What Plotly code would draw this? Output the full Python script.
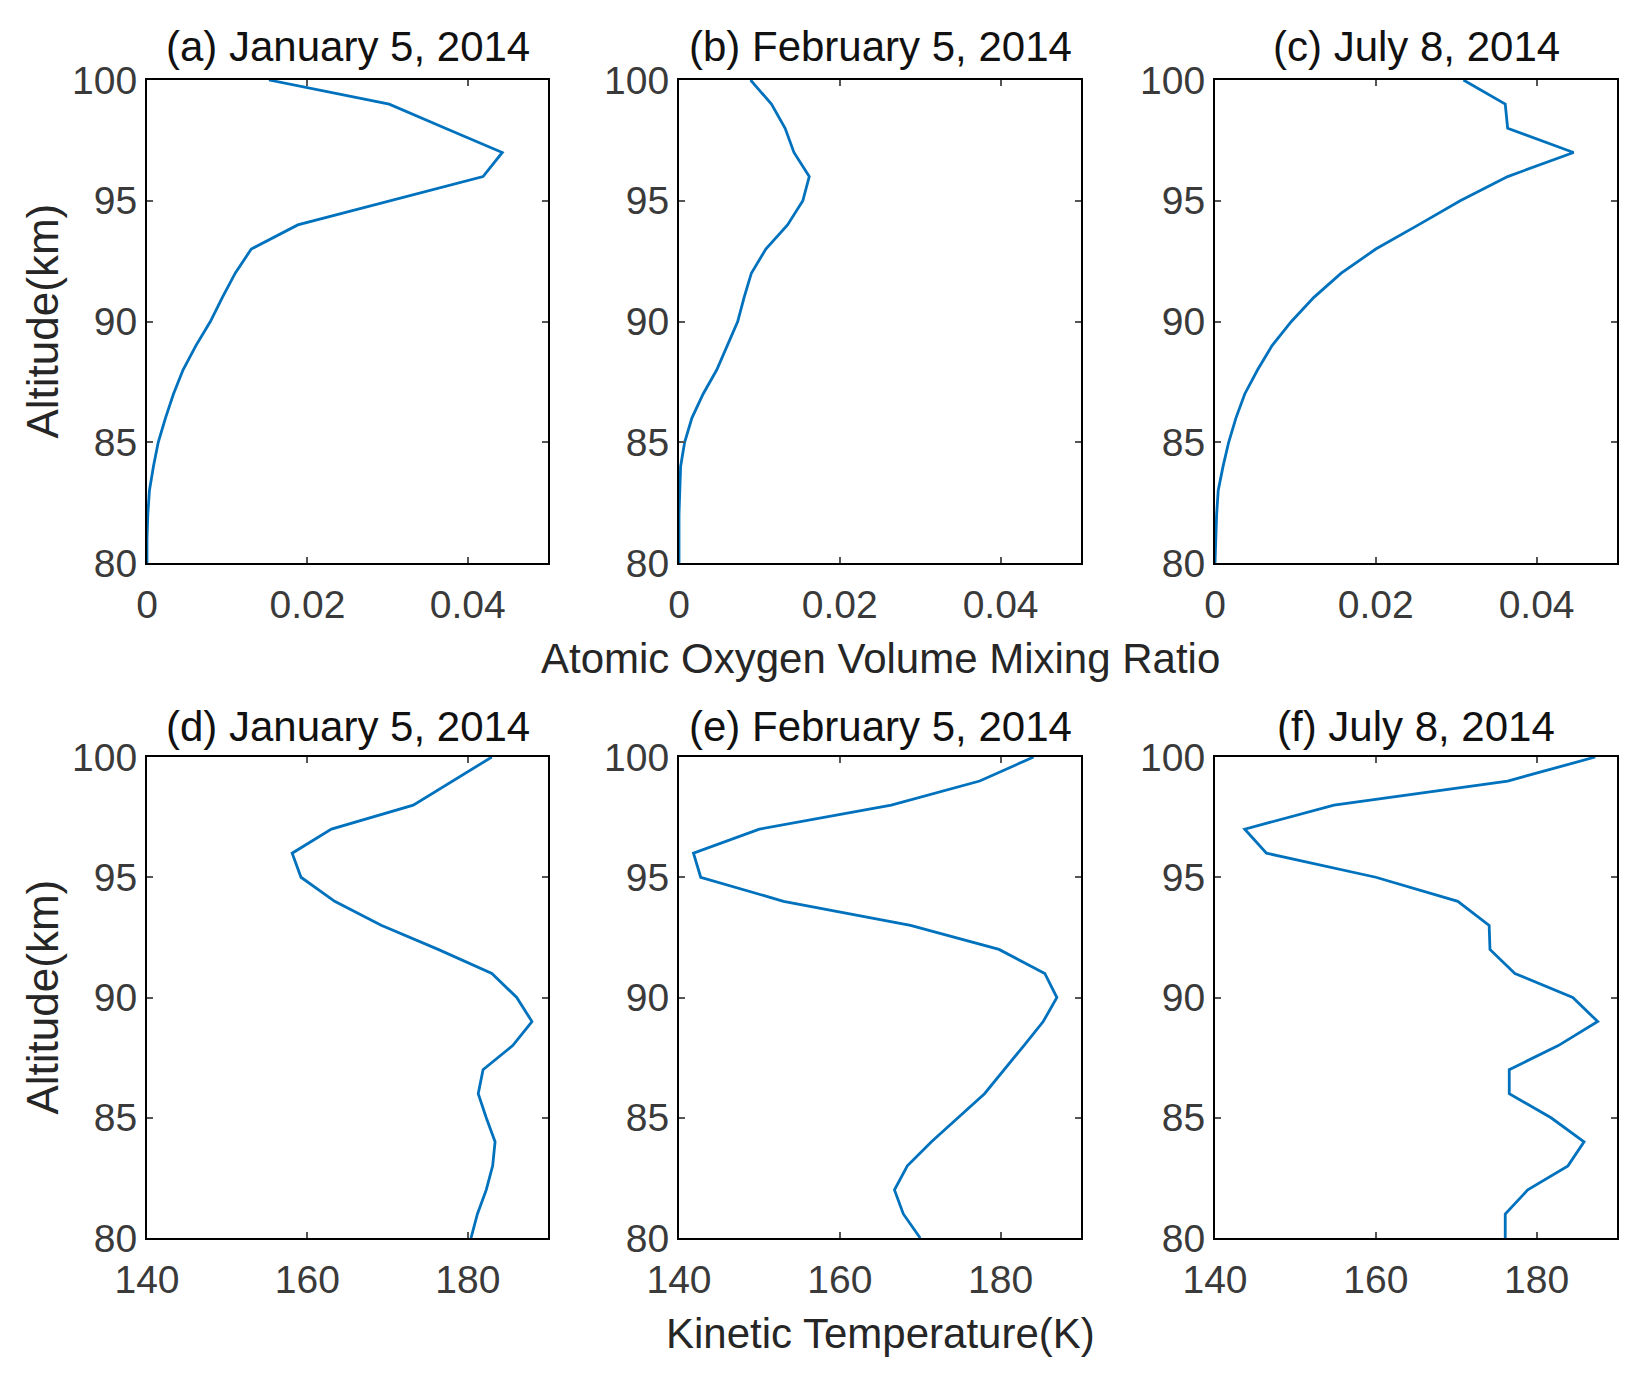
import plotly.graph_objects as go

altitude = [100, 99, 98, 97, 96, 95, 94, 93, 92, 91, 90, 89, 88, 87, 86, 85, 84, 83, 82, 81, 80]

o_jan = [0.0152, 0.0302, 0.0372, 0.0443, 0.0419, 0.0305, 0.0188, 0.0130, 0.0110, 0.0094, 0.0079,
         0.0061, 0.0045, 0.0033, 0.0023, 0.0014, 0.0008, 0.0003, 0.0001, 0.0, 0.0]
o_feb = [0.0089, 0.0115, 0.0132, 0.0143, 0.0162, 0.0154, 0.0135, 0.0108, 0.0090, 0.0081, 0.0073,
         0.0060, 0.0047, 0.0030, 0.0016, 0.0007, 0.0002, 0.0001, 0.0, 0.0, 0.0]
o_jul = [0.0309, 0.0361, 0.0364, 0.0446, 0.0364, 0.0305, 0.0253, 0.0200, 0.0157, 0.0123, 0.0095,
         0.0071, 0.0053, 0.0037, 0.0026, 0.0017, 0.0010, 0.0004, 0.0002, 0.0001, 0.0]

t_jan = [183.0, 178.1, 173.2, 163.0, 158.1, 159.2, 163.4, 169.2, 176.3, 183.0, 186.1,
         188.0, 185.6, 181.9, 181.3, 182.3, 183.4, 183.1, 182.3, 181.2, 180.4]
t_feb = [184.1, 177.4, 166.4, 150.0, 141.8, 142.7, 153.0, 168.8, 179.8, 185.5, 187.0,
         185.3, 182.9, 180.4, 178.0, 174.7, 171.4, 168.4, 166.8, 167.9, 170.0]
t_jul = [187.3, 176.4, 154.8, 143.7, 146.4, 160.0, 170.2, 174.1, 174.2, 177.3, 184.5,
         187.6, 182.7, 176.6, 176.6, 181.8, 185.9, 183.9, 178.9, 176.1, 176.1]

titles_top = ["(a) January 5, 2014", "(b) February 5, 2014", "(c) July 8, 2014"]
titles_bottom = ["(d) January 5, 2014", "(e) February 5, 2014", "(f) July 8, 2014"]
o_ticks = [0, 0.02, 0.04]
o_ticklabels = ["0", "0.02", "0.04"]
t_ticks = [140, 160, 180]
alt_ticks = [80, 85, 90, 95, 100]
xlabel_top = "Atomic Oxygen Volume Mixing Ratio"
xlabel_bottom = "Kinetic Temperature(K)"
ylabel = "Altitude(km)"

W, H = 1648, 1386
FONT = "Liberation Sans, Arial, sans-serif"
LINE = "#0072BD"

col_px = [(139, 540), (671, 1073), (1207, 1609)]
row_px = [(72, 555), (749, 1230)]

fig = go.Figure()

series = [o_jan, o_feb, o_jul, t_jan, t_feb, t_jul]
for i, xs in enumerate(series):
    r, c = divmod(i, 3)
    n = i + 1
    xa = "x" if n == 1 else f"x{n}"
    ya = "y" if n == 1 else f"y{n}"
    fig.add_trace(go.Scatter(x=xs, y=altitude, mode="lines",
                             line=dict(color=LINE, width=2.8),
                             xaxis=xa, yaxis=ya, showlegend=False))
    x0, x1 = col_px[c]
    y0, y1 = row_px[r]
    axkey = "xaxis" if n == 1 else f"xaxis{n}"
    aykey = "yaxis" if n == 1 else f"yaxis{n}"
    common = dict(showline=True, linecolor="black", linewidth=2.2, mirror="allticks",
                  ticks="inside", ticklen=6, tickwidth=1.5, tickcolor="#555555",
                  showgrid=False, zeroline=False, automargin=False,
                  tickfont=dict(family=FONT, size=39, color="#3a3a3a"))
    if r == 0:
        xax = dict(range=[0, 0.05], tickvals=o_ticks, ticktext=o_ticklabels, **common)
    else:
        xax = dict(range=[140, 190], tickvals=t_ticks, **common)
    xax.update(domain=[x0 / W, x1 / W], anchor=ya, ticklabelstandoff=6)
    yax = dict(range=[80, 100], tickvals=alt_ticks, **common)
    yax.update(domain=[1 - y1 / H, 1 - y0 / H], anchor=xa, ticklabelstandoff=0)
    fig.layout[axkey] = xax
    fig.layout[aykey] = yax

annotations = []
for c in range(3):
    cx = (col_px[c][0] + col_px[c][1]) / 2 / W
    annotations.append(dict(text=titles_top[c], x=cx, y=1 - 39 / H, xref="paper", yref="paper",
                            showarrow=False, xanchor="center", yanchor="middle",
                            font=dict(family=FONT, size=42, color="#111111")))
    annotations.append(dict(text=titles_bottom[c], x=cx, y=1 - 718 / H, xref="paper", yref="paper",
                            showarrow=False, xanchor="center", yanchor="middle",
                            font=dict(family=FONT, size=42, color="#111111")))

cxb = (col_px[1][0] + col_px[1][1]) / 2 / W
annotations.append(dict(text=xlabel_top, x=cxb, y=1 - 650 / H, xref="paper", yref="paper",
                        showarrow=False, xanchor="center", yanchor="middle",
                        font=dict(family=FONT, size=42, color="#262626")))
annotations.append(dict(text=xlabel_bottom, x=cxb, y=1 - 1325 / H, xref="paper", yref="paper",
                        showarrow=False, xanchor="center", yanchor="middle",
                        font=dict(family=FONT, size=42, color="#262626")))
for r in range(2):
    cy = 1 - (row_px[r][0] + row_px[r][1]) / 2 / H
    annotations.append(dict(text=ylabel, x=34 / W, y=cy, xref="paper", yref="paper",
                            showarrow=False, xanchor="center", yanchor="middle", textangle=-90,
                            font=dict(family=FONT, size=44, color="#262626")))

fig.update_layout(width=W, height=H, margin=dict(l=0, r=0, t=0, b=0, autoexpand=False),
                  paper_bgcolor="white", plot_bgcolor="white",
                  annotations=annotations)

fig.write_html("out.html")
